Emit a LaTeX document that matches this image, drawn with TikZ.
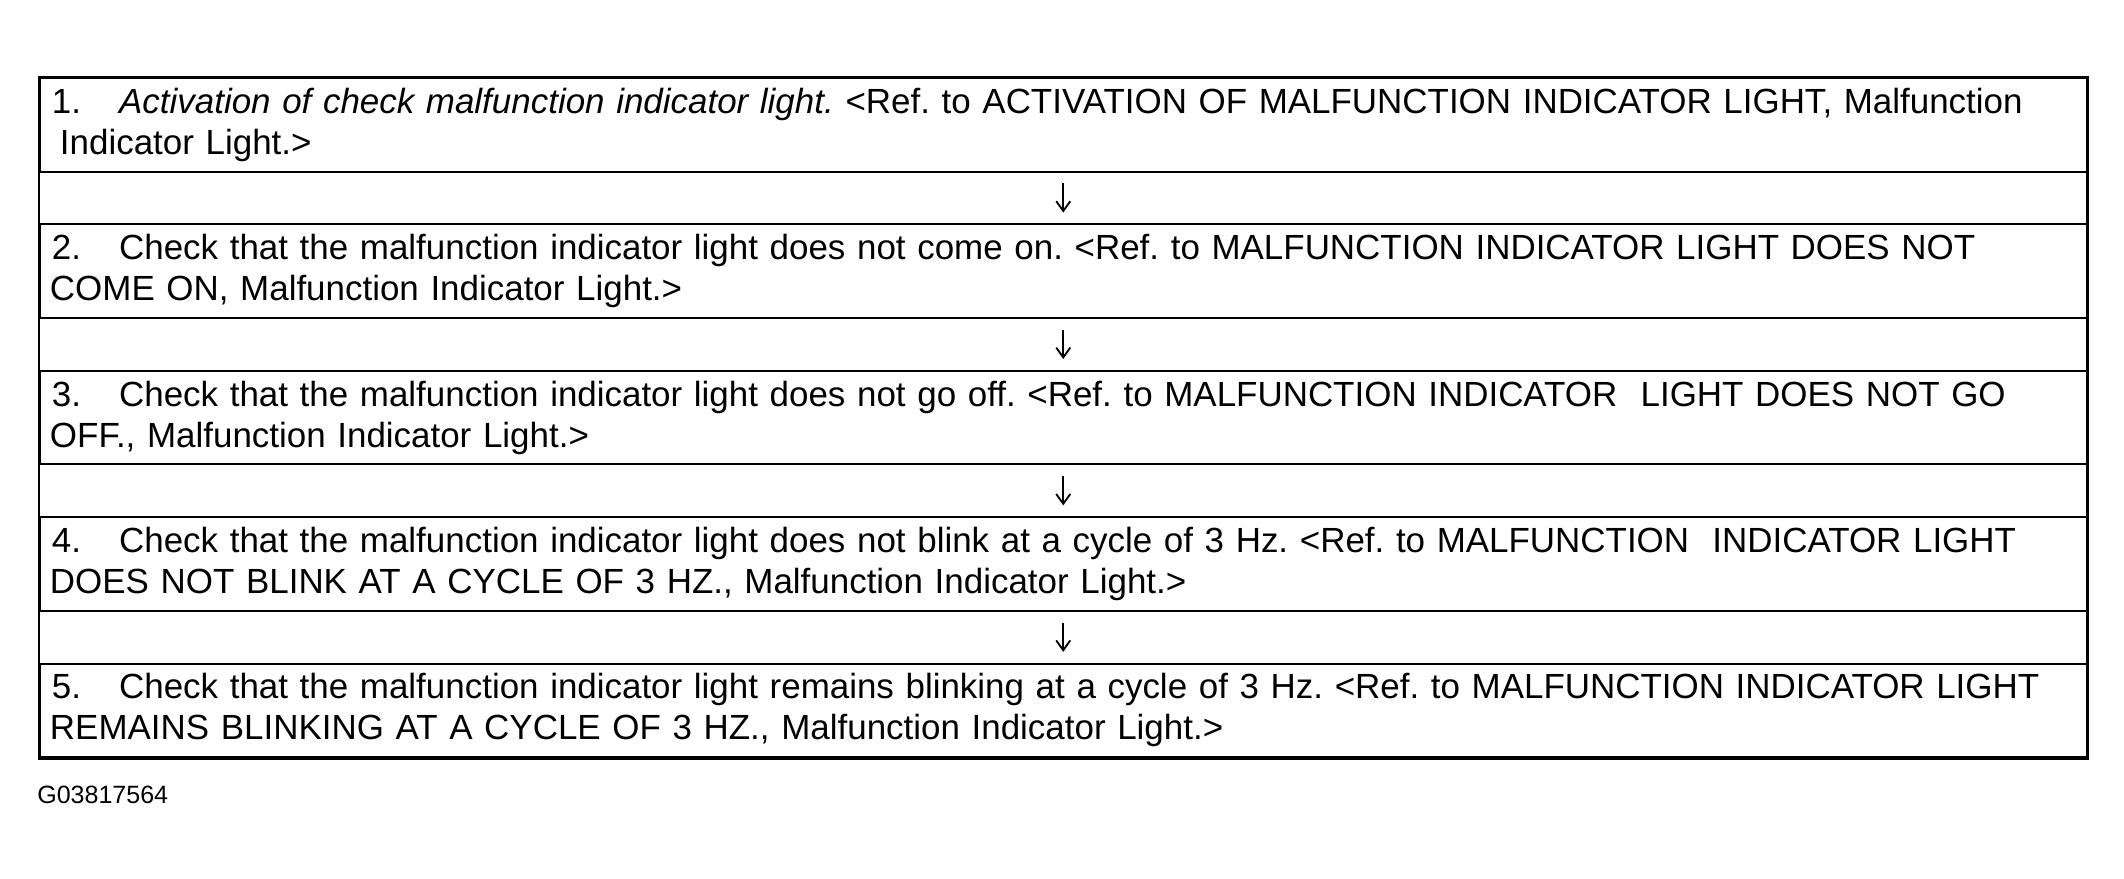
\documentclass[tikz,border=0pt]{standalone}
\usepackage{fontspec}
\setmainfont{Liberation Sans}
\usetikzlibrary{positioning,arrows.meta}
\frenchspacing

\newcommand{\stepnum}[1]{\hspace*{0.2cm}#1.\hspace{0.95cm}}

\tikzset{
  steprow/.style={draw, line width=1.4pt, minimum width=51.15cm, minimum height=2.34cm,
    text width=50.95cm, align=left, inner xsep=0.1cm, inner ysep=0pt,
    font=\fontsize{24.85pt}{29.2pt}\selectfont},
  flowarrow/.style={-{Straight Barb[length=7pt,width=10pt]}, line width=1.3pt,
    shorten <=0.27cm, shorten >=0.27cm},
}

\begin{document}
\begin{tikzpicture}[x=0.025cm,y=-0.025cm]
\useasboundingbox (0,0) rectangle (2124,879);
% steps of the check
\node[steprow, anchor=north west] (step1) at (39,77)
  {\stepnum{1}{\itshape Activation of check malfunction indicator light.} {<}Ref. to ACTIVATION OF MALFUNCTION INDICATOR LIGHT, Malfunction\\
   \hspace*{0.4cm}Indicator Light.{>}};
\node[steprow, below=1.27cm of step1] (step2)
  {\stepnum{2}Check that the malfunction indicator light does not come on. {<}Ref. to MALFUNCTION INDICATOR LIGHT DOES NOT\\
   \hspace*{0.15cm}COME ON, Malfunction Indicator Light.{>}};
\node[steprow, below=1.27cm of step2] (step3)
  {\stepnum{3}Check that the malfunction indicator light does not go off. {<}Ref. to MALFUNCTION INDICATOR\ \ LIGHT DOES NOT GO\\
   \hspace*{0.15cm}OFF., Malfunction Indicator Light.{>}};
\node[steprow, below=1.27cm of step3] (step4)
  {\stepnum{4}Check that the malfunction indicator light does not blink at a cycle of 3 Hz. {<}Ref. to MALFUNCTION\ \ INDICATOR LIGHT\\
   \hspace*{0.15cm}DOES NOT BLINK AT A CYCLE OF 3 HZ., Malfunction Indicator Light.{>}};
\node[steprow, below=1.27cm of step4] (step5)
  {\stepnum{5}Check that the malfunction indicator light remains blinking at a cycle of 3 Hz. {<}Ref. to MALFUNCTION INDICATOR LIGHT\\
   \hspace*{0.15cm}REMAINS BLINKING AT A CYCLE OF 3 HZ., Malfunction Indicator Light.{>}};
% outer frame
\draw[line width=2.1pt] (step1.north west) rectangle (step5.south east);
% arrows between the steps
\foreach \a/\b in {step1/step2, step2/step3, step3/step4, step4/step5}
  \draw[flowarrow] (\a.south) -- (\b.north);
\node[anchor=base west, inner sep=0pt, font=\fontsize{17.8pt}{20pt}\selectfont] (figid) at (37,803) {G03817564};
\end{tikzpicture}
\end{document}
